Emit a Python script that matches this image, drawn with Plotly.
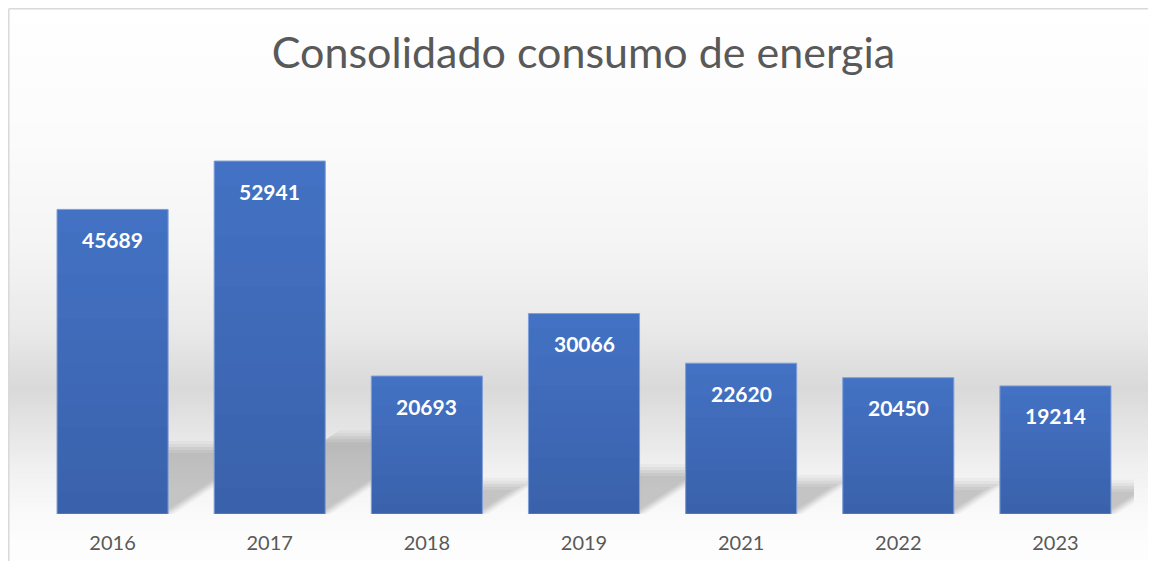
import plotly.graph_objects as go

years = ["2016", "2017", "2018", "2019", "2021", "2022", "2023"]
consumo = [45689, 52941, 20693, 30066, 22620, 20450, 19214]
title_text = "Consolidado consumo de energia"

# page is rendered with an 8px body margin; keep figure inside the window (no scrollbars)
OFF = 8
PAGE_W, PAGE_H = 1156, 569
W, H = PAGE_W - 2 * OFF, PAGE_H - 2 * OFF
PL, PT, PR, PB = 34, 114, 1134, 514          # plot area in page pixels
L, T = PL - OFF, PT - OFF
R, B = OFF + W - PR, OFF + H - PB
Y_MAX = 60000
BARGAP = 0.293
plot_w = PR - PL
plot_h = PB - PT
px_per_cat = plot_w / len(years)
px_per_val = plot_h / Y_MAX
half_w = (1 - BARGAP) / 2

shapes = []

# background gradient (chart area), stripes in paper coords
stops = [(7, 255), (140, 251), (250, 244), (330, 233), (388, 217), (425, 228), (470, 241), (515, 250), (545, 253), (575, 254)]
def gray_at(py):
    for (y0, g0), (y1, g1) in zip(stops, stops[1:]):
        if y0 <= py <= y1:
            return g0 + (g1 - g0) * (py - y0) / (y1 - y0)
    return 255
def px2x(px):
    return (px - PL) / plot_w
def px2y(py):
    return (PB - py) / plot_h
step = 3
py = 8
while py < OFF + H:
    g = int(round(gray_at(py + step / 2)))
    shapes.append(dict(type="rect", xref="paper", yref="paper", layer="below",
                       x0=px2x(9), x1=px2x(OFF + W), y0=px2y(min(py + step, OFF + H)), y1=px2y(py),
                       fillcolor=f"rgb({g},{g},{g})", line=dict(width=0)))
    py += step
# chart border (only top and left edges are visible)
shapes.append(dict(type="line", xref="paper", yref="paper", layer="below",
                   x0=px2x(8.8), x1=px2x(OFF + W), y0=px2y(8.8), y1=px2y(8.8),
                   line=dict(color="#d9d9d9", width=1.5)))
shapes.append(dict(type="line", xref="paper", yref="paper", layer="below",
                   x0=px2x(8.8), x1=px2x(8.8), y0=px2y(8.8), y1=px2y(OFF + H),
                   line=dict(color="#d9d9d9", width=1.5)))

# perspective shadows behind bars (soft: several layered parallelograms)
S = 0.22      # shadow height relative to bar height
K = 1.5       # horizontal offset per shadow pixel height
for i, v in enumerate(consumo):
    for grow, op in [(6, 0.03), (3, 0.04), (0, 0.05), (-3, 0.05), (-6, 0.04)]:
        sh_px = S * v * px_per_val + grow
        dx = K * sh_px / px_per_cat
        sh = sh_px / px_per_val
        x0 = i - half_w
        x1 = i + half_w + grow / px_per_cat
        path = f"M {x0},0 L {x1},0 L {x1 + dx},{sh} L {x0 + dx},{sh} Z"
        shapes.append(dict(type="path", xref="x", yref="y", layer="below", path=path,
                           fillcolor=f"rgba(0,0,0,{op})", line=dict(width=0)))

# bar gradient overlay (darker toward the bottom)
N = 14
for i, v in enumerate(consumo):
    for k in range(N):
        y0 = v * k / N
        y1 = v * (k + 1) / N
        op = 0.14 * (1 - (k + 0.5) / N)
        shapes.append(dict(type="rect", xref="x", yref="y", layer="above",
                           x0=i - half_w + 0.004, x1=i + half_w - 0.004, y0=y0, y1=y1,
                           fillcolor=f"rgba(0,0,20,{op:.3f})", line=dict(width=0)))

fig = go.Figure()
fig.add_trace(go.Bar(
    x=years, y=consumo,
    marker=dict(color="#4472c4", line=dict(color="#7f9fd8", width=1)),
    hoverinfo="x+y",
))

annotations = []
for i, v in enumerate(consumo):
    annotations.append(dict(x=i, y=v, xref="x", yref="y", text=f"<b>{v}</b>", showarrow=False,
                            yshift=-30, yanchor="middle", xanchor="center",
                            font=dict(family="Lato", size=21, color="white")))

fig.update_layout(
    width=W, height=H,
    margin=dict(l=L, r=R, t=T, b=B, autoexpand=False),
    paper_bgcolor="white",
    plot_bgcolor="rgba(0,0,0,0)",
    title=dict(text=title_text, x=(583.5 - OFF) / W, xanchor="center", y=1 - (53 - OFF) / H, yanchor="middle",
               xref="container", yref="container",
               font=dict(family="Lato", size=43, color="#595959")),
    bargap=BARGAP,
    showlegend=False,
    xaxis=dict(showgrid=False, showline=False, zeroline=False, ticks="",
               tickfont=dict(family="Lato", size=20, color="#595959"),
               ticklabelstandoff=15,
               range=[-0.5, len(years) - 0.5], fixedrange=True),
    yaxis=dict(visible=False, range=[0, Y_MAX], fixedrange=True),
    shapes=shapes,
    annotations=annotations,
)

fig.write_html("out.html")
